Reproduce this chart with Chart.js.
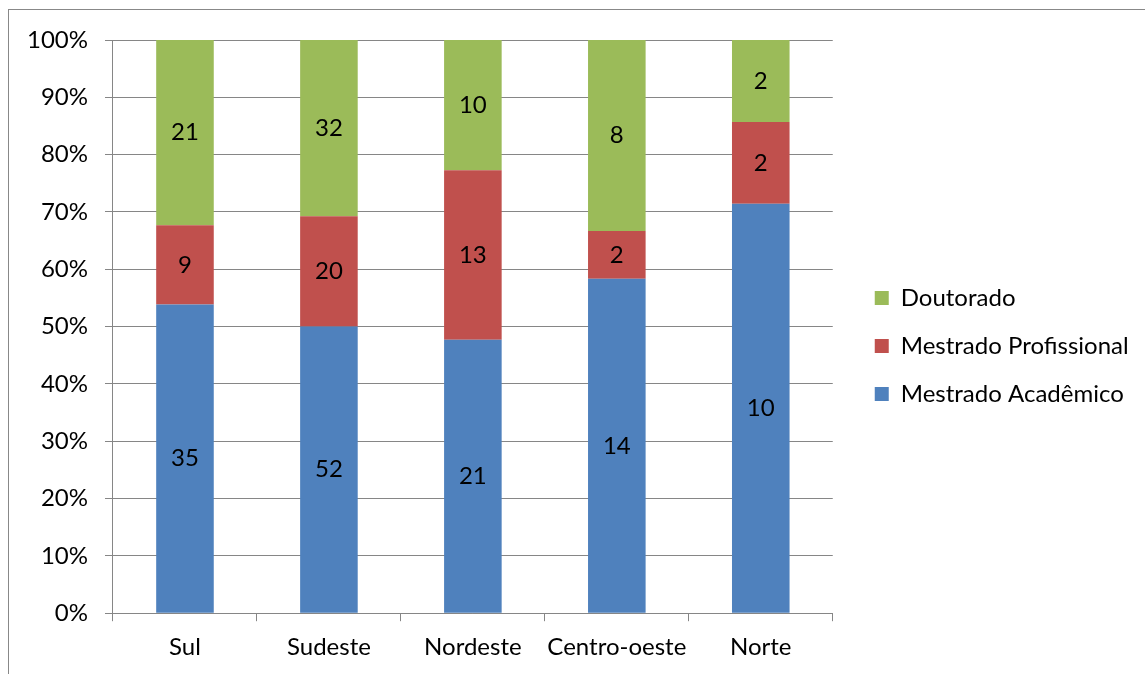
<!DOCTYPE html>
<html>
<head>
<meta charset="utf-8">
<script src="https://cdn.jsdelivr.net/npm/chart.js@4"></script>
<style>
  html, body { margin: 0; padding: 0; background: #fff; }
  #wrap { position: relative; width: 1145px; height: 674px; overflow: hidden; }
  #frame { position: absolute; left: 8px; top: 9px; width: 1200px; height: 700px; border: 1px solid #888; box-sizing: border-box; }
  canvas { position: absolute; left: 0; top: 0; }
</style>
</head>
<body>
<div id="wrap">
  <div id="frame"></div>
  <canvas id="chart" width="1145" height="674"></canvas>
</div>
<script>
const regions = ["Sul", "Sudeste", "Nordeste", "Centro-oeste", "Norte"]
const mestradoAcademico = [35, 52, 21, 14, 10]
const mestradoProfissional = [9, 20, 13, 2, 2]
const doutorado = [21, 32, 10, 8, 2]

const totals = regions.map((_, i) => mestradoAcademico[i] + mestradoProfissional[i] + doutorado[i])
const toPercent = values => values.map((v, i) => v / totals[i] * 100)

const fontFamily = "Lato, 'Open Sans', sans-serif"
const fontSize = 24

// draws the raw count in the middle of every segment
const segmentLabels = {
  id: "segmentLabels",
  afterDatasetsDraw(chart) {
    const ctx = chart.ctx
    ctx.save()
    ctx.font = `${fontSize}px ${fontFamily}`
    ctx.fillStyle = "#000"
    ctx.textAlign = "center"
    ctx.textBaseline = "middle"
    chart.data.datasets.forEach((dataset, di) => {
      chart.getDatasetMeta(di).data.forEach((bar, i) => {
        const mid = (bar.y + bar.base) / 2
        ctx.fillText(dataset.counts[i], bar.x, mid)
      })
    })
    ctx.restore()
  }
}

// legend sits a bit higher and further right than chart.js puts it
const legendNudge = {
  id: "legendNudge",
  afterLayout(chart) {
    chart.legend.top -= 11
    chart.legend.bottom -= 11
    chart.legend.left += 18
    chart.legend.right = chart.width
  }
}

new Chart(document.getElementById("chart"), {
  type: "bar",
  data: {
    labels: regions,
    datasets: [
      { label: "Mestrado Acadêmico", data: toPercent(mestradoAcademico), counts: mestradoAcademico, backgroundColor: "#4F81BD" },
      { label: "Mestrado Profissional", data: toPercent(mestradoProfissional), counts: mestradoProfissional, backgroundColor: "#C0504D" },
      { label: "Doutorado", data: toPercent(doutorado), counts: doutorado, backgroundColor: "#9BBB59" }
    ]
  },
  options: {
    responsive: false,
    animation: false,
    categoryPercentage: 1,
    barPercentage: 0.4,
    layout: { padding: { left: 10, top: 40, right: 38, bottom: 0 } },
    scales: {
      x: {
        stacked: true,
        grid: { drawOnChartArea: false, color: "#868686", tickLength: 8 },
        border: { color: "#868686" },
        ticks: {
          color: "#000",
          font: { family: fontFamily, size: fontSize },
          padding: 12,
          autoSkip: false,
          maxRotation: 0,
          minRotation: 0
        }
      },
      y: {
        stacked: true,
        min: 0,
        max: 100,
        grid: { color: "#868686", tickLength: 8 },
        border: { color: "#868686" },
        ticks: {
          stepSize: 10,
          color: "#000",
          font: { family: fontFamily, size: fontSize },
          padding: 17,
          callback: v => v + "%"
        }
      }
    },
    plugins: {
      tooltip: { enabled: false },
      legend: {
        position: "right",
        reverse: true,
        labels: {
          color: "#000",
          font: { family: fontFamily, size: fontSize },
          boxWidth: 14,
          boxHeight: 14,
          padding: 24
        }
      }
    }
  },
  plugins: [segmentLabels, legendNudge]
})
</script>
</body>
</html>
